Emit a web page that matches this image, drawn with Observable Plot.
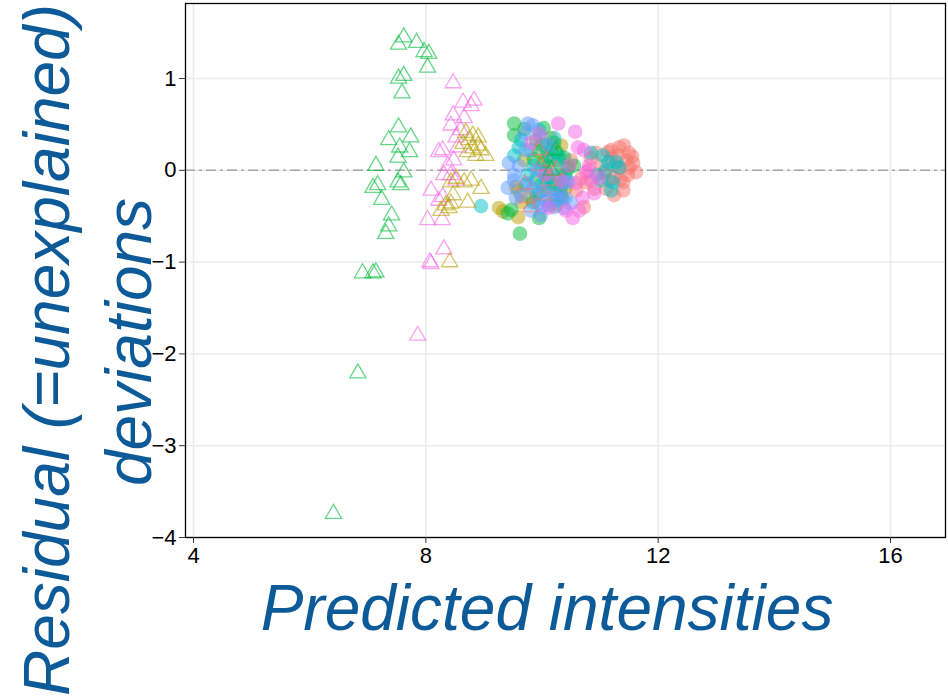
<!DOCTYPE html>
<html>
<head>
<meta charset="utf-8">
<script src="https://cdn.jsdelivr.net/npm/d3@7"></script>
<script src="https://cdn.jsdelivr.net/npm/@observablehq/plot@0.6"></script>
<style>
html,body{margin:0;padding:0;background:#fff;}
</style>
</head>
<body>
<div id="chart"></div>
<script>
// ---- data (predicted intensity, residual) ----
const triGreen = [[7.62,1.45],[7.53,1.37],[7.84,1.39],[7.97,1.29],[8.05,1.27],[8.03,1.12],[7.62,1.03],[7.53,1.00],[7.59,0.84],[7.53,0.47],[7.36,0.33],[7.74,0.36],[7.55,0.25],[7.72,0.20],[7.52,0.14],[7.14,0.05],[7.62,-0.02],[7.52,-0.13],[7.57,-0.16],[7.09,-0.19],[7.17,-0.16],[7.24,-0.32],[7.41,-0.49],[7.36,-0.61],[7.31,-0.69],[6.91,-1.12],[7.09,-1.12],[7.14,-1.11],[6.83,-2.21],[6.41,-3.74],[10.24,0.22],[10.16,0.0]];
const triPink = [[8.47,0.95],[8.64,0.74],[8.83,0.76],[8.78,0.70],[8.47,0.60],[8.43,0.49],[8.66,0.57],[8.60,0.44],[8.52,0.36],[8.29,0.22],[8.22,0.20],[8.55,0.25],[8.48,0.11],[8.38,0.05],[8.31,-0.05],[8.43,-0.05],[8.52,-0.11],[8.09,-0.22],[8.29,-0.29],[8.22,-0.33],[8.03,-0.54],[8.28,-0.54],[8.31,-0.86],[8.07,-1.00],[8.09,-1.02],[7.86,-1.80]];
const triOlive = [[8.69,0.41],[8.81,0.38],[8.90,0.36],[8.74,0.33],[8.90,0.27],[8.81,0.24],[8.95,0.22],[8.72,0.20],[8.86,0.16],[9.03,0.16],[8.64,0.29],[8.43,-0.13],[8.52,-0.09],[8.66,-0.13],[8.78,-0.11],[8.95,-0.20],[8.47,-0.27],[8.72,-0.35],[8.43,-0.36],[8.26,-0.44],[8.40,-0.41],[8.34,-0.38],[8.41,-1.00]];
const triRed = [[9.95,0.22],[10.10,0.10],[10.25,0.00],[9.70,-0.15],[9.75,-0.30],[9.80,-0.40],[9.98,0.05],[10.12,-0.11],[10.03,-0.27]];
const dotRed = [[11.19,0.22],[11.33,0.25],[11.41,0.27],[11.50,0.19],[11.57,0.08],[11.62,-0.02],[11.48,-0.05],[11.33,0.02],[11.24,-0.08],[11.40,-0.13],[11.16,-0.11],[11.07,-0.03],[11.02,0.05],[10.90,-0.20],[10.76,-0.13],[10.59,-0.22],[10.67,-0.09],[11.40,-0.22],[11.24,-0.27],[10.72,-0.40],[11.19,0.14],[11.31,0.16],[11.45,0.11],[11.14,0.20],[11.50,0.03],[10.93,0.19],[10.33,-0.27],[10.12,-0.22],[10.50,0.11],[10.84,0.13],[11.35,-0.10],[11.55,0.15],[11.10,-0.20],[10.80,0.00],[11.25,0.05]];
const dotOlive = [[9.26,-0.41],[9.33,-0.45],[9.55,-0.18],[9.59,-0.22],[10.33,0.27],[9.69,0.11],[9.59,-0.51],[10.10,0.05],[10.28,-0.05],[9.95,0.20],[10.40,-0.20],[9.80,-0.30],[9.65,-0.35],[10.15,0.35],[10.25,-0.38]];
const dotGreen = [[9.52,0.51],[9.52,0.38],[10.03,0.46],[9.62,-0.69],[9.95,-0.52],[9.41,-0.47],[9.47,-0.43],[10.16,0.22],[10.28,0.11],[10.38,0.14],[10.03,0.08],[10.12,-0.08],[10.33,-0.18],[9.95,-0.24],[10.45,0.02],[9.90,0.33],[10.00,0.28],[10.21,0.30],[10.07,-0.02],[9.86,0.12],[10.55,0.05],[10.20,-0.15],[10.35,-0.30],[10.10,0.15],[9.90,-0.10],[10.25,0.20],[10.40,-0.05],[9.85,-0.35],[9.70,0.45]];
const dotCyan = [[10.84,0.19],[11.05,0.16],[11.14,0.09],[11.28,0.09],[11.33,0.03],[11.19,-0.22],[11.22,-0.13],[11.02,-0.11],[9.52,0.16],[9.64,0.33],[9.81,0.22],[9.98,0.00],[10.07,-0.11],[9.90,-0.27],[10.16,0.11],[9.72,-0.16],[10.24,-0.33],[10.07,0.22],[10.33,0.00],[8.95,-0.39],[9.95,0.44],[10.21,0.35],[10.43,-0.11],[10.12,-0.38],[9.60,0.25],[9.85,0.05],[10.00,-0.15],[10.20,-0.20],[9.75,-0.05],[10.30,0.15],[11.10,0.00],[10.95,-0.05]];
const dotBlue = [[9.76,0.51],[9.84,0.49],[9.98,0.36],[9.43,0.08],[9.41,-0.19],[9.52,-0.11],[9.52,-0.05],[10.28,-0.31],[10.50,-0.36],[10.07,-0.33],[9.76,-0.14],[10.36,-0.13],[10.38,-0.41],[10.21,-0.40],[9.93,-0.36],[10.03,-0.22],[9.90,0.00],[10.16,-0.05],[9.64,-0.27],[9.72,0.22],[10.12,0.27],[9.98,-0.49],[10.45,-0.13],[9.81,-0.44],[9.60,0.05],[9.85,-0.20],[10.00,-0.40],[10.30,-0.25],[9.70,0.40],[10.15,-0.30],[9.55,-0.30],[10.40,-0.30]];
const dotMagenta = [[10.28,0.51],[10.57,0.42],[10.64,-0.44],[10.12,-0.41],[10.72,0.22],[10.84,-0.11],[10.62,0.25],[10.47,0.05],[10.76,-0.02],[10.59,-0.14],[10.98,-0.08],[10.41,-0.44],[9.81,0.30],[10.33,-0.11],[10.81,0.05],[10.05,-0.05],[10.53,-0.52],[9.95,0.40],[10.70,-0.30],[10.90,-0.25]];

const xTicks = [4, 8, 12, 16];
const yTicks = [-4, -3, -2, -1, 0, 1];
const xLabel = "Predicted intensities";
const yLabel1 = "Residual (=unexplained)";
const yLabel2 = "deviations";

const palette = {red:"#F8766D", olive:"#B79F00", green:"#00BA38", cyan:"#00BFC4", blue:"#619CFF", magenta:"#F564E3"};
const labelColor = "#0d5a99";
const fmt = d => (d < 0 ? "\u2212" : "") + Math.abs(d);

const dots = (arr, c) => Plot.dot(arr, {x: d => d[0], y: d => d[1], r: 7.3, fill: c, fillOpacity: 0.5, stroke: "none"});
const tris = (arr, c) => Plot.dot(arr, {x: d => d[0], y: d => d[1], r: 6, symbol: "triangle", stroke: c, strokeOpacity: 0.6, strokeWidth: 1.3, fill: "none"});

const chart = Plot.plot({
  width: 948,
  height: 697,
  marginLeft: 185,
  marginRight: 3,
  marginTop: 3,
  marginBottom: 160,
  style: {fontFamily: "'Liberation Sans', Arial, Helvetica, sans-serif", fontSize: "22px", color: "black", background: "white"},
  x: {domain: [3.862, 16.947]},
  y: {domain: [-4, 1.817]},
  marks: [
    Plot.gridX(xTicks, {stroke: "#ebebeb", strokeOpacity: 1, strokeWidth: 1.5}),
    Plot.gridY(yTicks, {stroke: "#ebebeb", strokeOpacity: 1, strokeWidth: 1.5}),
    Plot.ruleY([0], {stroke: "#a6a6a6", strokeWidth: 1.6, strokeDasharray: "10,4,3,4"}),
    dots(dotRed, palette.red),
    dots(dotOlive, palette.olive),
    dots(dotGreen, palette.green),
    dots(dotCyan, palette.cyan),
    dots(dotBlue, palette.blue),
    dots(dotMagenta, palette.magenta),
    tris(triRed, palette.red),
    tris(triGreen, palette.green),
    tris(triPink, palette.magenta),
    tris(triOlive, palette.olive),
    Plot.frame({stroke: "black", strokeWidth: 1.3}),
    Plot.axisX(xTicks, {tickSize: 6, tickPadding: 4, label: null, stroke: "#333", tickFormat: fmt}),
    Plot.axisY(yTicks, {tickSize: 6, tickPadding: 3, label: null, stroke: "#333", tickFormat: fmt})
  ]
});
document.getElementById("chart").appendChild(chart);

// axis titles (real SVG text)
const svg = d3.select(chart);
const titleStyle = s => s.attr("fill", labelColor).attr("font-size", 64).attr("font-style", "italic")
  .attr("font-family", "'Liberation Sans', Arial, Helvetica, sans-serif").attr("text-anchor", "middle");
svg.append("text").call(titleStyle).attr("x", 547).attr("y", 630).text(xLabel);
svg.append("text").call(titleStyle).attr("transform", "translate(69,350) rotate(-90)").text(yLabel1);
svg.append("text").call(titleStyle).attr("transform", "translate(151,342) rotate(-90)").text(yLabel2);
</script>
</body>
</html>
